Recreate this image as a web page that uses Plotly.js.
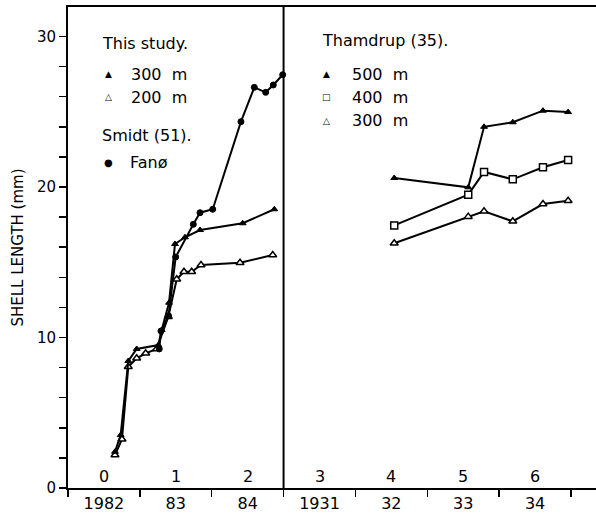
<!DOCTYPE html>
<html>
<head>
<meta charset="utf-8">
<script src="https://cdn.plot.ly/plotly-3.0.1.min.js"></script>
<style>html,body{margin:0;padding:0;background:#fff;}#chart{width:596px;height:517px;}</style>
</head>
<body>
<div id="chart"></div>
<script>
// ---- data (x in years since start of 1982 / 1931; y = shell length, mm) ----
const yearTickVals = [0, 1, 2, 3, 4, 5, 6, 7];
const yearLabelVals = [0.5, 1.5, 2.5, 3.5, 4.5, 5.5, 6.5];
const yearLabels = ["1982", "83", "84", "1931", "32", "33", "34"];
const ageLabelVals = [0.5, 1.5, 2.5, 3.5, 4.5, 5.5, 6.5];
const ageLabels = ["0", "1", "2", "3", "4", "5", "6"];
const yTickVals = [0,2,4,6,8,10,12,14,16,18,20,22,24,26,28,30];
const yTickText = ["0","","","","","10","","","","","20","","","","","30"];

const study300X = [0.654,0.733,0.839,0.956,1.257,1.304,1.406,1.489,1.628,1.837,2.431,2.871];
const study300Y = [2.41,3.52,8.44,9.24,9.50,10.50,12.31,16.21,16.66,17.14,17.59,18.52];
const study200X = [0.654,0.751,0.839,0.956,1.081,1.234,1.396,1.513,1.614,1.721,1.851,2.394,2.849];
const study200Y = [2.19,3.24,8.06,8.62,8.95,9.24,11.38,13.87,14.37,14.37,14.82,14.97,15.48];
const fanoX = [1.27,1.294,1.399,1.499,1.744,1.837,2.014,2.407,2.593,2.751,2.857,2.988];
const fanoY = [9.24,10.43,11.45,15.35,17.52,18.29,18.52,24.34,26.62,26.29,26.78,27.46];

const thamX = [4.54,5.57,5.79,6.19,6.61,6.96];
const tham500Y = [20.6,19.98,24.0,24.3,25.07,24.98];
const tham400Y = [17.45,19.49,21.0,20.51,21.31,21.79];
const tham300Y = [16.26,18.03,18.39,17.72,18.87,19.09];

const FONT = "DejaVu Sans, Liberation Sans, sans-serif";
const line = {color: "#000", width: 2};

function tr(x, y, symbol, size, name) {
  return {
    type: "scatter", mode: "lines+markers", x: x, y: y, name: name,
    line: line, cliponaxis: false,
    marker: {symbol: symbol, size: size, color: "#000", line: {color: "#000", width: 1}}
  };
}
function trOpen(x, y, symbol, size, name) {
  const t = tr(x, y, symbol, size, name);
  t.marker = {symbol: symbol, size: size, color: "#fff", line: {color: "#000", width: 1.5}};
  return t;
}

const data = [
  trOpen(study200X, study200Y, "triangle-up", 7, "This study 200 m"),
  tr(study300X, study300Y, "triangle-up", 6, "This study 300 m"),
  tr(fanoX, fanoY, "circle", 6, "Smidt Fanø"),
  tr(thamX, tham500Y, "triangle-up", 6, "Thamdrup 500 m"),
  trOpen(thamX, tham400Y, "square", 7, "Thamdrup 400 m"),
  trOpen(thamX, tham300Y, "triangle-up", 7, "Thamdrup 300 m")
];

const annotations = [];
function txt(x, y, text, size, xanchor) {
  annotations.push({x: x, y: y, xref: "x", yref: "y", text: text, showarrow: false,
    xanchor: xanchor || "left", yanchor: "middle", font: {family: FONT, size: size, color: "#000"}});
}
// age labels inside the plot
ageLabelVals.forEach((v, i) => txt(v, 0.75, ageLabels[i], 16, "center"));

// legend texts (left panel)
txt(0.445, 29.55, "This study.", 16);
txt(0.557, 27.5, "▲", 9, "center");
txt(0.85, 27.5, "300\u00a0\u00a0m", 16);
txt(0.557, 25.95, "△", 9, "center");
txt(0.85, 25.95, "200\u00a0\u00a0m", 16);
txt(0.445, 23.45, "Smidt (51).", 16);
txt(0.557, 21.6, "●", 10, "center");
txt(0.83, 21.6, "Fanø", 16);
// legend texts (right panel)
txt(3.507, 29.75, "Thamdrup (35).", 16);
txt(3.60, 27.5, "▲", 9, "center");
txt(3.92, 27.5, "500\u00a0\u00a0m", 16);
txt(3.60, 25.95, "□", 9, "center");
txt(3.92, 25.95, "400\u00a0\u00a0m", 16);
txt(3.60, 24.4, "△", 9, "center");
txt(3.92, 24.4, "300\u00a0\u00a0m", 16);

const layout = {
  width: 596, height: 517,
  margin: {l: 68, r: 0, t: 7, b: 29},
  paper_bgcolor: "#fff", plot_bgcolor: "#fff",
  showlegend: false,
  font: {family: FONT, color: "#000"},
  xaxis: {
    range: [0, 7.348], tickvals: yearTickVals, showticklabels: false,
    ticks: "outside", ticklen: 7, tickwidth: 1.5, tickcolor: "#000",
    showline: true, linecolor: "#000", linewidth: 2, mirror: true,
    showgrid: false, zeroline: false, fixedrange: true
  },
  xaxis2: {
    overlaying: "x", anchor: "y", side: "bottom",
    range: [0, 7.348], tickvals: yearLabelVals, ticktext: yearLabels,
    ticks: "", showline: false, showgrid: false, zeroline: false,
    ticklabelstandoff: 4,
    tickfont: {family: FONT, size: 16, color: "#000"}
  },
  yaxis: {
    range: [0, 31.96], tickvals: yTickVals, ticktext: yTickText,
    ticks: "outside", ticklen: 7, tickwidth: 1.5, tickcolor: "#000",
    showline: true, linecolor: "#000", linewidth: 2,
    showgrid: false, zeroline: false,
    tickfont: {family: FONT, size: 15, color: "#000"},
    title: {text: "SHELL LENGTH (mm)", font: {family: FONT, size: 15, color: "#000"}, standoff: 10}
  },
  shapes: [
    {type: "line", xref: "x", yref: "paper", x0: 3, x1: 3, y0: 0, y1: 1, line: {color: "#000", width: 2}}
  ],
  annotations: annotations
};

// hidden reference trace so xaxis2 renders its labels
data.push({type: "scatter", x: [yearLabelVals[0]], y: [null], xaxis: "x2", yaxis: "y", mode: "markers", hoverinfo: "skip", showlegend: false});

Plotly.newPlot("chart", data, layout, {displayModeBar: false, staticPlot: true});
</script>
</body>
</html>
